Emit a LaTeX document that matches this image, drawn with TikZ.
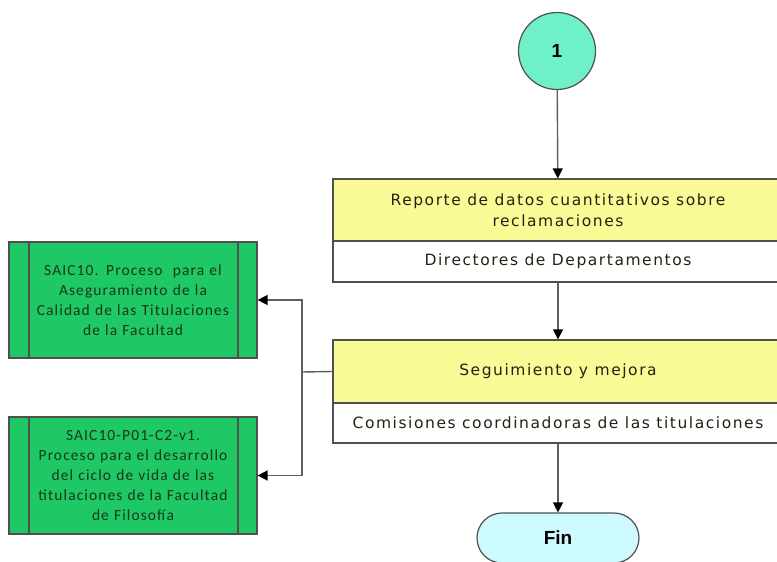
\documentclass[tikz,border=0pt]{standalone}
\usepackage{fontspec}
\setmainfont{DejaVu Sans}[LetterSpace=10]
\newfontfamily\carlito{Carlito}[LetterSpace=7]
\newfontfamily\arialf{Liberation Sans}
\usepackage{tikz}
\usetikzlibrary{arrows.meta,positioning}
\definecolor{amarillo}{RGB}{250,250,150}
\definecolor{verdeproc}{RGB}{30,200,100}
\definecolor{aguamarina}{RGB}{110,240,200}
\definecolor{celeste}{RGB}{205,250,255}
\definecolor{borde}{RGB}{80,80,80}
\definecolor{linea}{RGB}{95,95,95}
\definecolor{textoverde}{RGB}{25,55,25}
\definecolor{textooscuro}{RGB}{35,35,20}
\tikzset{
  tarea/.style={draw=borde, line width=1.2pt, fill=amarillo, minimum width=450pt,
    inner sep=0pt, align=center, text=textooscuro, font=\fontsize{15.5}{21}\selectfont},
  actor/.style={tarea, fill=white},
  proc/.style={draw=borde, line width=1.2pt, fill=verdeproc, minimum width=248pt,
    minimum height=116pt, inner sep=0pt, align=center, text width=210pt, text=textoverde,
    font=\carlito\fontsize{15.5}{20}\selectfont,
    path picture={
      \draw[borde, line width=1.2pt] ([xshift=20pt]path picture bounding box.north west)
        -- ([xshift=20pt]path picture bounding box.south west);
      \draw[borde, line width=1.2pt] ([xshift=-19pt]path picture bounding box.north east)
        -- ([xshift=-19pt]path picture bounding box.south east);}},
  flecha/.style={draw=linea, line width=1.4pt, -{Triangle[length=10pt,width=10pt,black]}}
}
\begin{document}
\begin{tikzpicture}[x=1pt,y=-1pt]
\useasboundingbox (0,0) rectangle (777,562);

\node[circle, draw=borde, line width=1.2pt, fill=aguamarina, minimum size=77pt,
  font=\arialf\bfseries\fontsize{19}{20}\selectfont] (uno) at (557,51) {1};

\node[tarea, minimum height=62pt] (rep) at (558,210) {Reporte de datos cuantitativos sobre\\reclamaciones};
\node[actor, minimum height=41pt] (repdir) at (558,261.5) {Directores de Departamentos};

\node[tarea, minimum height=63pt] (seg) at (558,371.5) {Seguimiento y mejora};
\node[actor, minimum height=40pt] (segcom) at (558,423) {Comisiones coordinadoras de las titulaciones};

\node[draw=borde, line width=1.2pt, fill=celeste, minimum width=162pt, minimum height=50pt,
  rounded corners=25pt, font=\arialf\bfseries\fontsize{19}{20}\selectfont] (fin) at (558,538) {Fin};

\node[proc] (saicA) at (133,300) {SAIC10. Proceso\ \ para el\\Aseguramiento de la\\Calidad de las Titulaciones\\de la Facultad};
\node[proc, minimum height=117pt] (saicB) at (133,475.5) {SAIC10-P01-C2-v1.\\Proceso para el desarrollo\\del ciclo de vida de las\\titulaciones de la Facultad\\de Filosofía};

% flujo principal
\draw[flecha] (uno) -- (rep);
\draw[flecha] (repdir) -- (seg);
\draw[flecha] (segcom) -- (fin);

% procesos relacionados
\coordinate (rama) at (302,372);
\draw[draw=linea, line width=1.4pt] (seg.west) -- (rama);
\draw[flecha] (rama) |- (saicA.east);
\draw[flecha] (rama) |- (saicB.east);

\end{tikzpicture}
\end{document}
